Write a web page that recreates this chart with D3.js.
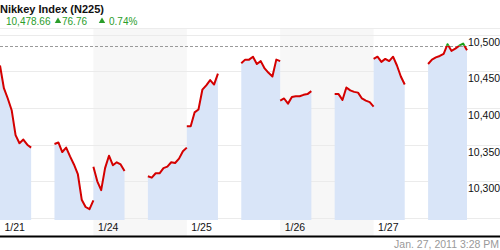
<!DOCTYPE html>
<html><head><meta charset="utf-8">
<script src="https://cdn.jsdelivr.net/npm/d3@7"></script>
<style>body{margin:0;background:#fff}svg{display:block}</style>
</head><body><svg id="c" width="500" height="250"></svg>
<script>
// ---- data ----
const dayLabels = ["1/21", "1/24", "1/25", "1/26", "1/27"];
// 15-minute samples, morning 9:00-11:00, afternoon 12:30-15:00
const morningSessions = [
  [10458, 10427, 10413, 10397, 10363, 10352, 10357, 10350, 10346],
  [10320, 10300, 10288, 10318, 10335, 10322, 10326, 10323, 10314],
  [10375, 10375, 10394, 10398, 10425, 10431, 10438, 10432, 10447],
  [10410, 10413, 10406, 10415, 10416, 10416, 10418, 10419, 10423],
  [10467, 10470, 10463, 10467, 10464, 10470, 10458, 10443, 10432]
];
const afternoonSessions = [
  [10351, 10353, 10340, 10346, 10334, 10323, 10310, 10275, 10265, 10262, 10274],
  [10307, 10305, 10311, 10311, 10318, 10320, 10326, 10325, 10331, 10341, 10346],
  [10461, 10466, 10466, 10470, 10460, 10464, 10454, 10448, 10443, 10466, 10464],
  [10419, 10419, 10411, 10428, 10424, 10422, 10421, 10413, 10410, 10408, 10402],
  [10460, 10466, 10469, 10471, 10474, 10487, 10478, 10481, 10485, 10488, 10478.66]
];
const gridValues = [10250, 10300, 10350, 10400, 10450, 10500];
const yLabelValues = [10300, 10350, 10400, 10450, 10500];
const refLevel = 10485;
const titleText = "Nikkey Index (N225)";
const quoteTexts = ["10,478.66", "76.76", "0.74%"];
const stampText = "Jan. 27, 2011 3:28 PM";

// ---- layout ----
const W = 500, H = 250;
const plotRight = 467, colTop = 29, axisY = 236.5, fillBase = 220;
const narrow = "'Liberation Sans Narrow', 'Arial Narrow', 'Liberation Sans', Arial, sans-serif";
const svg = d3.select("#c");

const x = d3.scaleLinear().domain([0, dayLabels.length * 360]).range([0, plotRight]);
const y = d3.scaleLinear().domain([10250, 10500]).range([218, 34.7]);

const toPts = (vals, d, start) => vals.map((v, i) => ({t: d * 360 + start + i * 15, v}));
const am = morningSessions.map((s, d) => toPts(s, d, 0));
const pm = afternoonSessions.map((s, d) => toPts(s, d, 210));

// alternating day columns
svg.append("g").selectAll("rect").data(dayLabels.map((d, i) => i).filter(i => i % 2 === 1))
  .join("rect")
  .attr("x", i => x(i * 360)).attr("width", i => x((i + 1) * 360) - x(i * 360))
  .attr("y", colTop).attr("height", axisY - colTop)
  .attr("fill", "#f7f7f7");

// header separator
svg.append("line").attr("x1", 0).attr("x2", W).attr("y1", 28.5).attr("y2", 28.5)
  .attr("stroke", "#ececec");

// grid
svg.append("g").selectAll("line").data(gridValues).join("line")
  .attr("x1", 0).attr("x2", W)
  .attr("y1", d => Math.round(y(d)) + 0.5).attr("y2", d => Math.round(y(d)) + 0.5)
  .attr("stroke", "#ebebeb");

// fill areas
const areaGroups = [am[0]];
for (let d = 0; d < dayLabels.length - 1; d++) areaGroups.push(pm[d].concat(am[d + 1]));
areaGroups.push(pm[dayLabels.length - 1]);
const area = d3.area().x(p => x(p.t)).y0(fillBase).y1(p => y(p.v));
svg.append("g").selectAll("path").data(areaGroups).join("path")
  .attr("d", area).attr("fill", "#d9e5f8");

// reference dashed line
svg.append("line").attr("x1", 0).attr("x2", plotRight)
  .attr("y1", Math.round(y(refLevel)) + 0.5).attr("y2", Math.round(y(refLevel)) + 0.5)
  .attr("stroke", "#9a9a9a").attr("stroke-dasharray", "3,2");

// clip paths
const defs = svg.append("defs");
defs.append("clipPath").attr("id", "above").append("rect")
  .attr("x", 0).attr("y", 0).attr("width", W).attr("height", y(refLevel));
defs.append("clipPath").attr("id", "below").append("rect")
  .attr("x", 0).attr("y", y(refLevel)).attr("width", W).attr("height", H);

const sessions = [];
for (let d = 0; d < dayLabels.length; d++) { sessions.push(am[d]); sessions.push(pm[d]); }
const line = d3.line().x(p => x(p.t)).y(p => y(p.v));
[["below", "#d40000"], ["above", "#18a018"]].forEach(([clip, col]) => {
  svg.append("g").attr("clip-path", `url(#${clip})`)
    .selectAll("path").data(sessions).join("path")
    .attr("d", line).attr("fill", "none").attr("stroke", col)
    .attr("stroke-width", 2).attr("stroke-linejoin", "round");
});

// y axis labels (right)
const yAxis = d3.axisRight(y).tickValues(yLabelValues).tickFormat(d3.format(","))
  .tickSize(0).tickPadding(0);
const yg = svg.append("g").attr("transform", `translate(${plotRight + 1},0)`).call(yAxis);
yg.select(".domain").remove();
yg.selectAll("text").attr("dy", "1em").attr("fill", "#111")
  .style("font-family", narrow).style("font-size", "10.5px");

// x axis labels
const xAxis = d3.axisBottom(x).tickValues(dayLabels.map((d, i) => i * 360))
  .tickFormat((t, i) => dayLabels[i]).tickSize(0).tickPadding(4);
const xg = svg.append("g").attr("transform", `translate(0,${fillBase})`).call(xAxis);
xg.select(".domain").remove();
xg.selectAll("text").attr("text-anchor", "start").attr("x", 4).attr("fill", "#111")
  .style("font-family", narrow).style("font-size", "10.5px");

// axis line
svg.append("line").attr("x1", 0).attr("x2", W).attr("y1", axisY).attr("y2", axisY)
  .attr("stroke", "#000").attr("stroke-width", 2);

// header
svg.append("text").attr("x", 0).attr("y", 13).text(titleText)
  .style("font-family", "'Liberation Sans', Arial, sans-serif")
  .style("font-size", "11px").style("font-weight", "bold").attr("fill", "#111");
const green = "#2a9d2a";
const qx = [6, 62, 109];
quoteTexts.forEach((t, i) => {
  svg.append("text").attr("x", qx[i]).attr("y", 24.5).text(t)
    .style("font-family", "'Liberation Sans', Arial, sans-serif")
    .style("font-size", "10px").attr("fill", green);
});
[58, 102].forEach(cx => {
  svg.append("path").attr("d", d3.symbol(d3.symbolTriangle, 18)())
    .attr("transform", `translate(${cx},21.2)`).attr("fill", green);
});

// timestamp
svg.append("text").attr("x", 499).attr("y", 248).attr("text-anchor", "end").text(stampText)
  .style("font-family", narrow).style("font-size", "10.5px").attr("fill", "#999");
</script></body></html>
